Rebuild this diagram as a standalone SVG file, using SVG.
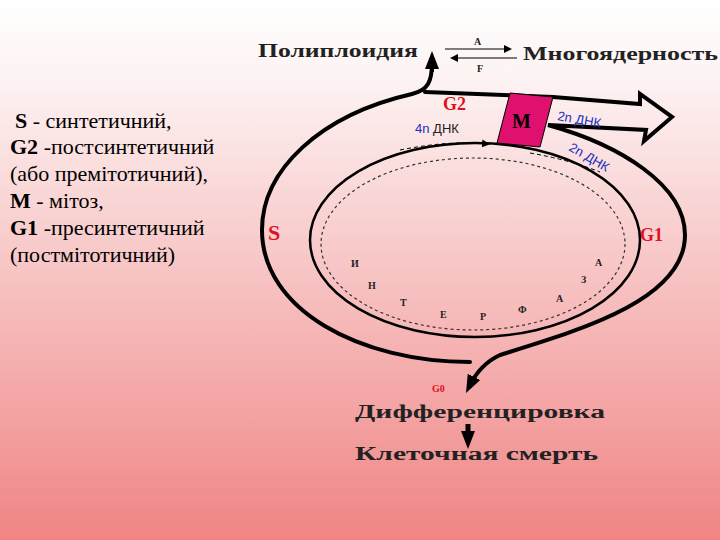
<svg xmlns="http://www.w3.org/2000/svg" width="720" height="540" viewBox="0 0 720 540">
<defs>
<linearGradient id="bg" x1="0" y1="0" x2="0" y2="1">
<stop offset="0" stop-color="#ffffff"/><stop offset="0.15" stop-color="#fdf2f2"/><stop offset="1" stop-color="#f08484"/>
</linearGradient>
<marker id="ah" markerWidth="8" markerHeight="8" refX="6" refY="4" orient="auto" markerUnits="userSpaceOnUse"><path d="M0,0 L8,4 L0,8 Z" fill="#000"/></marker>
<marker id="big" markerWidth="18" markerHeight="18" refX="9" refY="9" orient="auto" markerUnits="userSpaceOnUse"><path d="M0,2 L18,9 L0,16 Z" fill="#000"/></marker>
</defs>
<style>
.t{font-family:"Liberation Serif",serif;fill:#000}
.h{font-family:"Liberation Serif",serif;font-weight:bold;font-size:18px;fill:#222}
.r{font-family:"Liberation Serif",serif;font-weight:bold;fill:#e01020}
.b{font-family:"Liberation Sans",sans-serif;font-size:13px;fill:#2030c0}
.l{font-family:"Liberation Serif",serif;font-weight:bold;font-size:10px;fill:#222}
.th{fill:none;stroke:#000;stroke-width:4;stroke-linecap:round}
</style>
<rect width="720" height="540" fill="url(#bg)"/>
<g id="legend" class="t" font-size="22">
<text x="15" y="128"><tspan font-weight="bold">S</tspan> - синтетичний,</text>
<text x="10" y="154"><tspan font-weight="bold">G2</tspan> -постсинтетичний</text>
<text x="10" y="181">(або премітотичний),</text>
<text x="10" y="208"><tspan font-weight="bold">M</tspan> - мітоз,</text>
<text x="10" y="235"><tspan font-weight="bold">G1</tspan> -пресинтетичний</text>
<text x="10" y="262">(постмітотичний)</text>
</g>
<g id="connectors">
<ellipse cx="475" cy="240" rx="165" ry="97" fill="none" stroke="#000" stroke-width="2.5"/>
<ellipse cx="473" cy="244" rx="152" ry="86" fill="none" stroke="#333" stroke-width="1.2" stroke-dasharray="3,3"/>
<path class="th" d="M432,62 C432,82 428,90 412,94 C320,115 262,170 262,230 C262,310 360,362 470,362"/>
<path class="th" d="M425,92 L553,97 L640,104 L640,94 L672,117 L644,141 L646,130 L548,125 C620,145 685,185 685,235 C685,300 580,330 500,355 C485,362 475,375 470,385" marker-end="url(#big)"/>
<path d="M432,72 L432,60" stroke="#000" stroke-width="4" marker-end="url(#big)"/>
<path d="M445,49 L510,49" stroke="#000" stroke-width="1.2" marker-end="url(#ah)"/>
<path d="M517,58 L452,58" stroke="#000" stroke-width="1.2" marker-end="url(#ah)"/>
<path d="M468,424 L468,440" stroke="#000" stroke-width="5" marker-end="url(#big)"/>
<path d="M400,150 Q450,140 488,144" fill="none" stroke="#000" stroke-width="1" stroke-dasharray="4,3" marker-end="url(#ah)"/>
<path d="M530,153 Q570,160 600,172" fill="none" stroke="#000" stroke-width="1" stroke-dasharray="4,3"/>
</g>
<g id="M"><path d="M510,93 L553,97 L540,147 L497,143 Z" fill="#e0106e" stroke="#000" stroke-width="1"/>
<text x="512" y="128" class="t" font-size="20" font-weight="bold">M</text></g>
<g id="top">
<text x="258" y="57" class="h" textLength="160" lengthAdjust="spacingAndGlyphs">Полиплоидия</text>
<text x="523" y="60" class="h" textLength="195" lengthAdjust="spacingAndGlyphs">Многоядерность</text>
<text x="474" y="45" class="l">A</text><text x="477" y="72" class="l">F</text>
</g>
<g id="labels">
<text x="443" y="110" class="r" font-size="18">G2</text>
<text x="415" y="133" class="b">4n <tspan fill="#222">ДНК</tspan></text>
<text x="557" y="120" class="b" transform="rotate(10 557 120)">2n ДНК</text>
<text x="568" y="150" class="b" transform="rotate(30 568 150)">2n ДНК</text>
<text x="268" y="240" class="r" font-size="22">S</text>
<text x="640" y="241" class="r" font-size="18">G1</text>
<text x="432" y="392" class="r" font-size="10">G0</text>
</g>
<g id="interphase" class="l">
<text x="351" y="267">И</text><text x="368" y="289">Н</text><text x="400" y="306">Т</text><text x="440" y="318">Е</text><text x="480" y="320">Р</text><text x="518" y="313">Ф</text><text x="556" y="302">А</text><text x="581" y="283">З</text><text x="595" y="266">А</text>
</g>
<g id="bottom">
<text x="355" y="418" class="h" textLength="250" lengthAdjust="spacingAndGlyphs">Дифференцировка</text>
<text x="355" y="460" class="h" textLength="243" lengthAdjust="spacingAndGlyphs">Клеточная смерть</text>
</g>
</svg>
